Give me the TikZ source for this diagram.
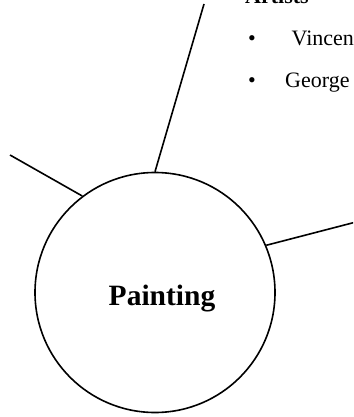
\documentclass[tikz,border=0pt]{standalone}
\usepackage{fontspec}
\setmainfont{Liberation Serif}
\begin{document}
\begin{tikzpicture}[x=1pt,y=-1pt,
  conn/.style={draw=black,line width=1.6pt},
  hub/.style={circle,draw=black,line width=1.6pt,minimum size=240pt,inner sep=0pt,fill=white},
  listtext/.style={anchor=base west,inner sep=0pt,font=\fontsize{22}{24}\selectfont},
  headtext/.style={anchor=base west,inner sep=0pt,font=\fontsize{22}{24}\selectfont\bfseries}]
\clip (0,0) rectangle (353,417);
\fill[white] (0,0) rectangle (353,417);
\coordinate (topend) at (204,4);
\coordinate (leftend) at (10,155);
\coordinate (rightend) at (356,222);
\node[hub] (c) at (155,292.5) {};
\draw[conn] (c.90) -- (topend);
\draw[conn] (c.127.2) -- (leftend);
\draw[conn] (c.23.6) -- (rightend);
\node[anchor=base,inner sep=0pt,font=\fontsize{29.5}{32}\selectfont\bfseries] (lbl) at (162,305) {Painting};
\node[headtext] (head) at (245,3.5) {Artists};
\node[listtext] (b1) at (248,46) {\textbullet};
\node[listtext] (t1) at (291.5,46) {Vincent};
\node[listtext] (b2) at (248,88) {\textbullet};
\node[listtext] (t2) at (285,88) {George};
\end{tikzpicture}
\end{document}
